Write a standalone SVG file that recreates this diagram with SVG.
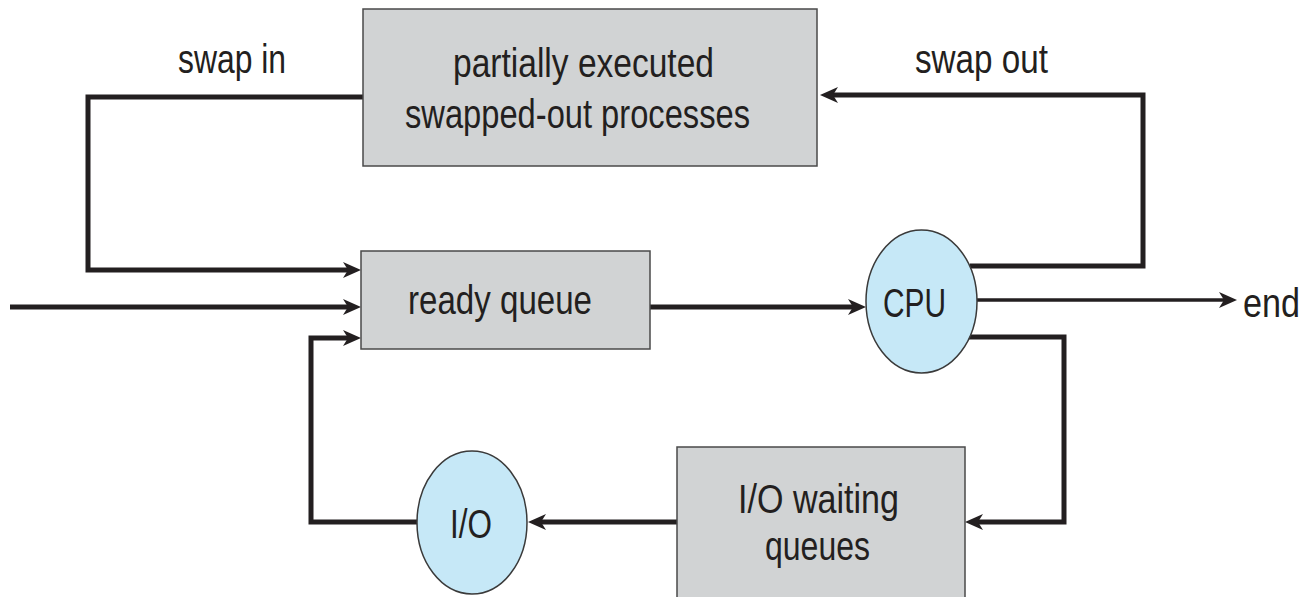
<svg xmlns="http://www.w3.org/2000/svg" width="1312" height="597" viewBox="0 0 1312 597">
<style>
.box{fill:#d1d3d4;stroke:#4a4a4a;stroke-width:1.5}
.proc{fill:#c6e8f7;stroke:#3a3a3a;stroke-width:1.5}
.t{font-family:"Liberation Sans Narrow","Liberation Sans",Arial,sans-serif;font-size:41px;fill:#231f20}
.c{fill:none;stroke:#231f20;stroke-width:5;stroke-linejoin:miter}
.thin{fill:none;stroke:#231f20;stroke-width:3.5}
</style>
<defs>
<marker id="ah" viewBox="0 0 18 16" refX="9" refY="8" markerWidth="18" markerHeight="16" markerUnits="userSpaceOnUse" orient="auto">
<path d="M0,0 L18,8 L0,16 L5,8 Z" fill="#231f20"/>
</marker>
</defs>
<rect width="1312" height="597" fill="#ffffff"/>
<g id="connectors">
<path class="c" d="M363,97 H88 V270 H352" marker-end="url(#ah)"/>
<path class="c" d="M10,307 H352" marker-end="url(#ah)"/>
<path class="c" d="M417,522 H311 V338 H352" marker-end="url(#ah)"/>
<path class="c" d="M650,307 H857" marker-end="url(#ah)"/>
<path class="c" d="M970,266 H1143 V95 H829" marker-end="url(#ah)"/>
<path class="thin" d="M977,300 H1228" marker-end="url(#ah)"/>
<path class="c" d="M968,337 H1064 V522 H974" marker-end="url(#ah)"/>
<path class="c" d="M677,522 H537" marker-end="url(#ah)"/>
</g>
<g id="label-swap-in"><text class="t" x="178" y="73" textLength="108" lengthAdjust="spacingAndGlyphs">swap in</text></g>
<g id="label-swap-out"><text class="t" x="915" y="73" textLength="133" lengthAdjust="spacingAndGlyphs">swap out</text></g>
<g id="swapped-out">
<rect class="box" x="363" y="9" width="454" height="157"/>
<text class="t" x="453" y="77" textLength="261" lengthAdjust="spacingAndGlyphs">partially executed</text>
<text class="t" x="405" y="128" textLength="345" lengthAdjust="spacingAndGlyphs">swapped-out processes</text>
</g>
<g id="ready-queue">
<rect class="box" x="361" y="251" width="289" height="98"/>
<text class="t" x="408" y="314" textLength="184" lengthAdjust="spacingAndGlyphs">ready queue</text>
</g>
<g id="cpu">
<ellipse class="proc" cx="921.5" cy="301.5" rx="55.5" ry="71.5"/>
<text class="t" x="883" y="317" textLength="63" lengthAdjust="spacingAndGlyphs">CPU</text>
</g>
<g id="end"><text class="t" x="1243" y="317" textLength="57" lengthAdjust="spacingAndGlyphs">end</text></g>
<g id="io-waiting">
<rect class="box" x="677" y="447" width="288" height="160"/>
<text class="t" x="738" y="513" textLength="161" lengthAdjust="spacingAndGlyphs">I/O waiting</text>
<text class="t" x="765" y="560" textLength="105" lengthAdjust="spacingAndGlyphs">queues</text>
</g>
<g id="io">
<ellipse class="proc" cx="472" cy="522.5" rx="55" ry="71.5"/>
<text class="t" x="450" y="538" textLength="42" lengthAdjust="spacingAndGlyphs">I/O</text>
</g>
</svg>
